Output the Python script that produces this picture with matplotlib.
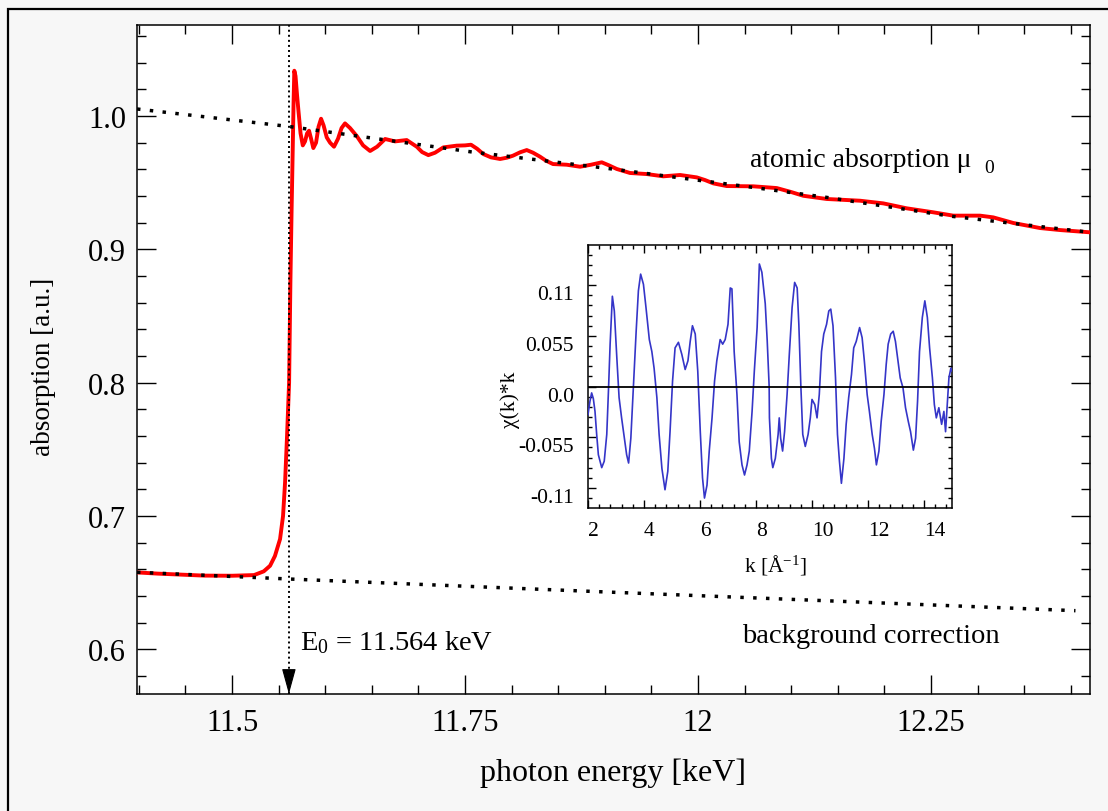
import matplotlib
matplotlib.use("Agg")
import matplotlib.pyplot as plt
from matplotlib.patches import Rectangle
from matplotlib.ticker import MultipleLocator, FixedLocator, FixedFormatter

plt.rcParams['font.family'] = ['Liberation Serif', 'DejaVu Serif']
plt.rcParams['mathtext.fontset'] = 'custom'
plt.rcParams['mathtext.rm'] = 'Liberation Serif'
plt.rcParams['mathtext.it'] = 'Liberation Serif:italic'
plt.rcParams['mathtext.default'] = 'regular'

# measured absorption spectrum (keV, a.u.)
energy = [11.398, 11.420, 11.440, 11.470, 11.500, 11.5236, 11.534, 11.5408,
          11.546, 11.5515, 11.5547, 11.5569, 11.559, 11.5612, 11.5626,
          11.5639, 11.5651, 11.5660, 11.5668, 11.5681, 11.5697, 11.5711,
          11.5735, 11.5759, 11.5783, 11.5805, 11.5826, 11.5848, 11.5872,
          11.5901, 11.5928, 11.5955, 11.5982, 11.6016, 11.6052, 11.6094,
          11.6137, 11.6175, 11.6212, 11.6266, 11.6338, 11.6406, 11.6481,
          11.6556, 11.6642, 11.6749, 11.6874, 11.6982, 11.7039, 11.7106,
          11.7178, 11.7267, 11.7411, 11.7500, 11.7564, 11.7629, 11.7696,
          11.7779, 11.7876, 11.7951, 11.8015, 11.8090, 11.8162, 11.8230,
          11.8305, 11.8369, 11.8444, 11.8591, 11.8734, 11.8852, 11.8967,
          11.9045, 11.9128, 11.9270, 11.9450, 11.9628, 11.9807, 11.9986,
          12.0075, 12.0164, 12.0308, 12.0593, 12.0844, 12.1000, 12.1130,
          12.1381, 12.1738, 12.1988, 12.2239, 12.2525, 12.2739, 12.3026,
          12.3168, 12.3383, 12.3670, 12.3884, 12.4206]
mu = [0.6577, 0.6568, 0.6562, 0.6553, 0.6552, 0.6557, 0.6585, 0.6627,
      0.6700, 0.6827, 0.7000, 0.7255, 0.7600, 0.8000, 0.8750,
      0.9300, 0.9750, 1.0100, 1.0340, 1.0300, 1.0160, 1.0050,
      0.9870, 0.9780, 0.9810, 0.9870, 0.9890, 0.9830, 0.9760,
      0.9800, 0.9920, 0.9980, 0.9930, 0.9840, 0.9800, 0.9770,
      0.9830, 0.9910, 0.9945, 0.9910, 0.9850, 0.9780, 0.9738,
      0.9770, 0.9828, 0.9810, 0.9820, 0.9770, 0.9730, 0.9707,
      0.9725, 0.9765, 0.9778, 0.9780, 0.9785, 0.9755, 0.9715,
      0.9690, 0.9678, 0.9688, 0.9703, 0.9728, 0.9745, 0.9725,
      0.9695, 0.9665, 0.9640, 0.9635, 0.9620, 0.9635, 0.9653,
      0.9630, 0.9603, 0.9573, 0.9565, 0.9548, 0.9558, 0.9540,
      0.9520, 0.9495, 0.9475, 0.9473, 0.9460, 0.9430, 0.9402,
      0.9378, 0.9365, 0.9345, 0.9308, 0.9278, 0.9253, 0.9253,
      0.9240, 0.9198, 0.9160, 0.9145, 0.9128]

# atomic absorption mu0 and background line
mu0_e = [11.398, 11.563, 11.756, 11.900, 12.059, 12.138, 12.270, 12.418]
mu0 = [1.0053, 0.9920, 0.9732, 0.9610, 0.9465, 0.9390, 0.9250, 0.9130]
bg_e = [11.398, 11.563, 11.895, 12.405]
bg = [0.6578, 0.6527, 0.6432, 0.6290]
E0 = 11.561

# EXAFS chi(k)*k
k = [2.00, 2.07, 2.13, 2.19, 2.25, 2.31, 2.37, 2.49, 2.58, 2.67, 2.73, 2.79,
     2.87, 2.94, 3.03, 3.11, 3.20, 3.30, 3.38, 3.45, 3.53, 3.62, 3.72, 3.80,
     3.88, 3.98, 4.07, 4.19, 4.28, 4.36, 4.46, 4.54, 4.64, 4.75, 4.85, 4.93,
     5.02, 5.11, 5.23, 5.35, 5.47, 5.57, 5.65, 5.73, 5.83, 5.92, 6.01, 6.09,
     6.16, 6.25, 6.33, 6.43, 6.52, 6.60, 6.72, 6.81, 6.90, 7.00, 7.08, 7.14,
     7.22, 7.32, 7.40, 7.50, 7.59, 7.68, 7.76, 7.86, 7.94, 8.04, 8.12, 8.21,
     8.33, 8.40, 8.47, 8.48, 8.55, 8.60, 8.69, 8.79, 8.83, 8.88, 8.95, 9.02,
     9.11, 9.19, 9.29, 9.38, 9.47, 9.53, 9.60, 9.67, 9.76, 9.86, 9.94, 10.00,
     10.10, 10.18, 10.26, 10.34, 10.42, 10.52, 10.60, 10.67, 10.75, 10.84,
     10.91, 10.98, 11.05, 11.14, 11.22, 11.31, 11.41, 11.49, 11.58, 11.70,
     11.79, 11.87, 11.97, 12.05, 12.15, 12.23, 12.30, 12.39, 12.47, 12.57,
     12.65, 12.72, 12.81, 12.90, 12.98, 13.07, 13.15, 13.25, 13.34, 13.44,
     13.52, 13.62, 13.70, 13.77, 13.84, 13.94, 14.03, 14.12, 14.20, 14.30,
     14.37, 14.44, 14.53, 14.63, 14.71, 14.77, 14.83, 14.89, 14.96, 15.00]
chik = [-0.0305, -0.016, -0.0069, -0.013, -0.027, -0.052, -0.074, -0.088,
        -0.081, -0.052, -0.005, 0.046, 0.098, 0.082, 0.031, -0.012, -0.034,
        -0.056, -0.074, -0.083, -0.056, -0.0015, 0.060, 0.104, 0.122, 0.111,
        0.086, 0.051, 0.038, 0.020, -0.012, -0.052, -0.089, -0.112, -0.092,
        -0.049, 0.006, 0.042, 0.048, 0.035, 0.0185, 0.028, 0.049, 0.066,
        0.057, 0.0167, -0.049, -0.099, -0.121, -0.107, -0.070, -0.034, 0.006,
        0.028, 0.051, 0.046, 0.051, 0.0675, 0.107, 0.106, 0.038, -0.0087,
        -0.060, -0.085, -0.096, -0.085, -0.070, -0.027, 0.0167, 0.064, 0.133,
        0.124, 0.090, 0.050, 0.000, -0.034, -0.078, -0.088, -0.078, -0.052,
        -0.034, -0.056, -0.070, -0.049, -0.0087, 0.035, 0.086, 0.113, 0.107,
        0.0675, 0.002, -0.052, -0.065, -0.052, -0.034, -0.014, -0.0196,
        -0.034, -0.0087, 0.038, 0.057, 0.0675, 0.082, 0.084, 0.066, 0.0094,
        -0.052, -0.081, -0.105, -0.078, -0.041, -0.012, 0.013, 0.042, 0.049,
        0.064, 0.053, 0.0276, -0.0087, -0.027, -0.052, -0.067, -0.085, -0.070,
        -0.038, -0.0087, 0.024, 0.046, 0.057, 0.060, 0.049, 0.0276, 0.0094,
        -0.0015, -0.023, -0.038, -0.049, -0.069, -0.056, -0.016, 0.038, 0.075,
        0.093, 0.075, 0.042, 0.0094, -0.0196, -0.034, -0.023, -0.041, -0.027,
        -0.049, -0.0196, 0.0094, 0.020, 0.0167]

x_ticks = [11.5, 11.75, 12.0, 12.25]
x_labels = ['11.5', '11.75', '12', '12.25']
y_ticks = [0.6, 0.7, 0.8, 0.9, 1.0]
y_labels = ['0.6', '0.7', '0.8', '0.9', '1.0']
in_x_ticks = [2, 4, 6, 8, 10, 12, 14]
in_x_labels = ['2', '4', '6', '8', '10', '12', '14']
in_y_ticks = [-0.11, -0.055, 0.0, 0.055, 0.11]
in_y_labels = ['-0.11', '-0.055', '0.0', '0.055', '0.11']

W, H = 1108, 812
fig = plt.figure(figsize=(W / 100, H / 100), dpi=100, facecolor='#f7f7f7')
fig.patches.append(Rectangle((8 / W, -0.2), 1.5, 1.2 - 10 / H,
                             transform=fig.transFigure, fill=False,
                             edgecolor='black', linewidth=1.6, zorder=0))

ax = fig.add_axes([137 / W, 1 - 695 / H, 953 / W, 669 / H])
ax.set_facecolor('white')
ax.plot(energy, mu, color='#ff0000', lw=2.8, zorder=3)
ax.plot(mu0_e, mu0, color='black', lw=2.5, linestyle=(0, (1, 2.7)),
        dash_capstyle='butt', zorder=4)
ax.plot(bg_e, bg, color='black', lw=2.5, linestyle=(0, (1, 2.7)),
        dash_capstyle='butt', zorder=4)
ax.axvline(E0, color='black', lw=1.4, linestyle=(0, (1, 1.6)), zorder=4)
ax.annotate('', xy=(E0, 0.5665), xytext=(E0, 0.5665 + 0.0175),
            arrowprops=dict(arrowstyle='-|>,head_length=0.8,head_width=0.22',
                            mutation_scale=20, color='black', lw=0.8,
                            shrinkA=0, shrinkB=0), zorder=5)

ax.set_xlim(11.398, 12.4206)
ax.set_ylim(0.5665, 1.0683)
ax.xaxis.set_major_locator(FixedLocator(x_ticks))
ax.xaxis.set_major_formatter(FixedFormatter(x_labels))
ax.xaxis.set_minor_locator(MultipleLocator(0.05))
ax.yaxis.set_major_locator(FixedLocator(y_ticks))
ax.yaxis.set_major_formatter(FixedFormatter(y_labels))
ax.yaxis.set_minor_locator(MultipleLocator(0.02))
ax.tick_params(which='both', direction='in', top=True, right=True,
               width=1.0, labelsize=22)
ax.tick_params(which='major', length=13.5)
ax.tick_params(which='minor', length=6.5)
ax.tick_params(axis='x', which='major', pad=10)
ax.tick_params(axis='y', which='major', pad=8)
for s in ax.spines.values():
    s.set_linewidth(1.1)

ax.set_xlabel('photon energy [keV]', fontsize=23)
ax.xaxis.set_label_coords(0.4995, -0.095)
ax.set_ylabel('absorption [a.u.]', fontsize=19.5)
ax.yaxis.set_label_coords(-0.085, 0.49)

fig.text(750 / W, 1 - 167 / H, 'atomic absorption μ', fontsize=20,
         va='baseline')
fig.text(984 / W, 1 - 173 / H, '0', fontsize=14, va='baseline')
fig.text(742 / W, 1 - 643 / H, 'background correction', fontsize=20.5,
         va='baseline')
fig.text(300 / W, 1 - 650 / H, 'E$_0$ = 11.564 keV', fontsize=20.5,
         va='baseline')

# inset with chi(k)*k
axi = fig.add_axes([588 / W, 1 - 509 / H, 364 / W, 263 / H])
axi.set_facecolor('white')
axi.plot(k, chik, color='#3535c8', lw=1.2, zorder=3)
axi.axhline(0, color='black', lw=1.3, zorder=4)
axi.set_xlim(2, 15)
axi.set_ylim(-0.1318, 0.1536)
axi.xaxis.set_major_locator(FixedLocator(in_x_ticks))
axi.xaxis.set_major_formatter(FixedFormatter(in_x_labels))
axi.xaxis.set_minor_locator(MultipleLocator(0.4))
axi.yaxis.set_major_locator(FixedLocator(in_y_ticks))
axi.yaxis.set_major_formatter(FixedFormatter(in_y_labels))
axi.yaxis.set_minor_locator(MultipleLocator(0.011))
axi.tick_params(which='both', direction='in', top=True, right=True,
                width=1.0, labelsize=15.5)
axi.tick_params(which='major', length=5.5)
axi.tick_params(which='minor', length=3)
axi.tick_params(axis='x', which='major', pad=9)
axi.tick_params(axis='y', which='major', pad=10)
plt.setp(axi.get_xticklabels(), ha='left')
plt.setp(axi.get_yticklabels(), va='top')
for s in axi.spines.values():
    s.set_linewidth(1.1)
axi.set_xlabel('k [Å$^{-1}$]', fontsize=15.5)
axi.xaxis.set_label_coords(0.514, -0.167)
axi.set_ylabel('χ(k)*k', fontsize=15.5)
axi.yaxis.set_label_coords(-0.187, 0.414)

fig.savefig('out.png', dpi=100, facecolor=fig.get_facecolor())
